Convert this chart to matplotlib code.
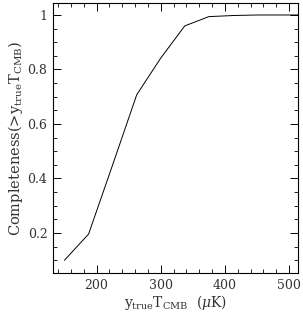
import matplotlib
matplotlib.use("Agg")
import matplotlib.pyplot as plt
from matplotlib.ticker import MultipleLocator

plt.rcParams["font.family"] = "DejaVu Serif"
plt.rcParams["mathtext.fontset"] = "dejavuserif"

# Completeness curve
y_true = [150, 187.5, 225, 262.5, 300, 337.5, 375, 412.5, 450, 487.5, 525]
completeness = [0.10, 0.196, 0.45, 0.707, 0.842, 0.96, 0.994, 0.998, 1.0, 1.0, 1.0]

fig = plt.figure(figsize=(3.03, 3.12), dpi=100)
ax = fig.add_axes([53 / 303, 1 - 273 / 312, 245 / 303, 270 / 312])
ax.plot(y_true, completeness, color="black", lw=0.7)

ax.set_xlim(132, 514)
ax.set_ylim(0.053, 1.044)
ax.xaxis.set_major_locator(MultipleLocator(100))
ax.xaxis.set_minor_locator(MultipleLocator(20))
ax.yaxis.set_major_locator(MultipleLocator(0.2))
ax.yaxis.set_minor_locator(MultipleLocator(0.05))
ax.set_yticks([0.2, 0.4, 0.6, 0.8, 1.0])
ax.set_yticklabels(["0.2", "0.4", "0.6", "0.8", "1"])
ax.tick_params(which="both", direction="in", top=True, right=True,
               labelsize=9, colors="black", labelcolor="#333333")
ax.tick_params(which="major", length=6, width=0.7, pad=4)
ax.tick_params(which="minor", length=3, width=0.6)
for s in ax.spines.values():
    s.set_linewidth(0.8)

ax.set_xlabel(r"$\mathrm{y_{true}T_{CMB}}$  $(\mu\mathrm{K})$", fontsize=10,
              color="#333333", labelpad=1)
ax.set_ylabel(r"Completeness(>$\mathrm{y_{true}T_{CMB}}$)", fontsize=10.5,
              color="#333333", labelpad=2)

fig.savefig("out.png", dpi=100)
